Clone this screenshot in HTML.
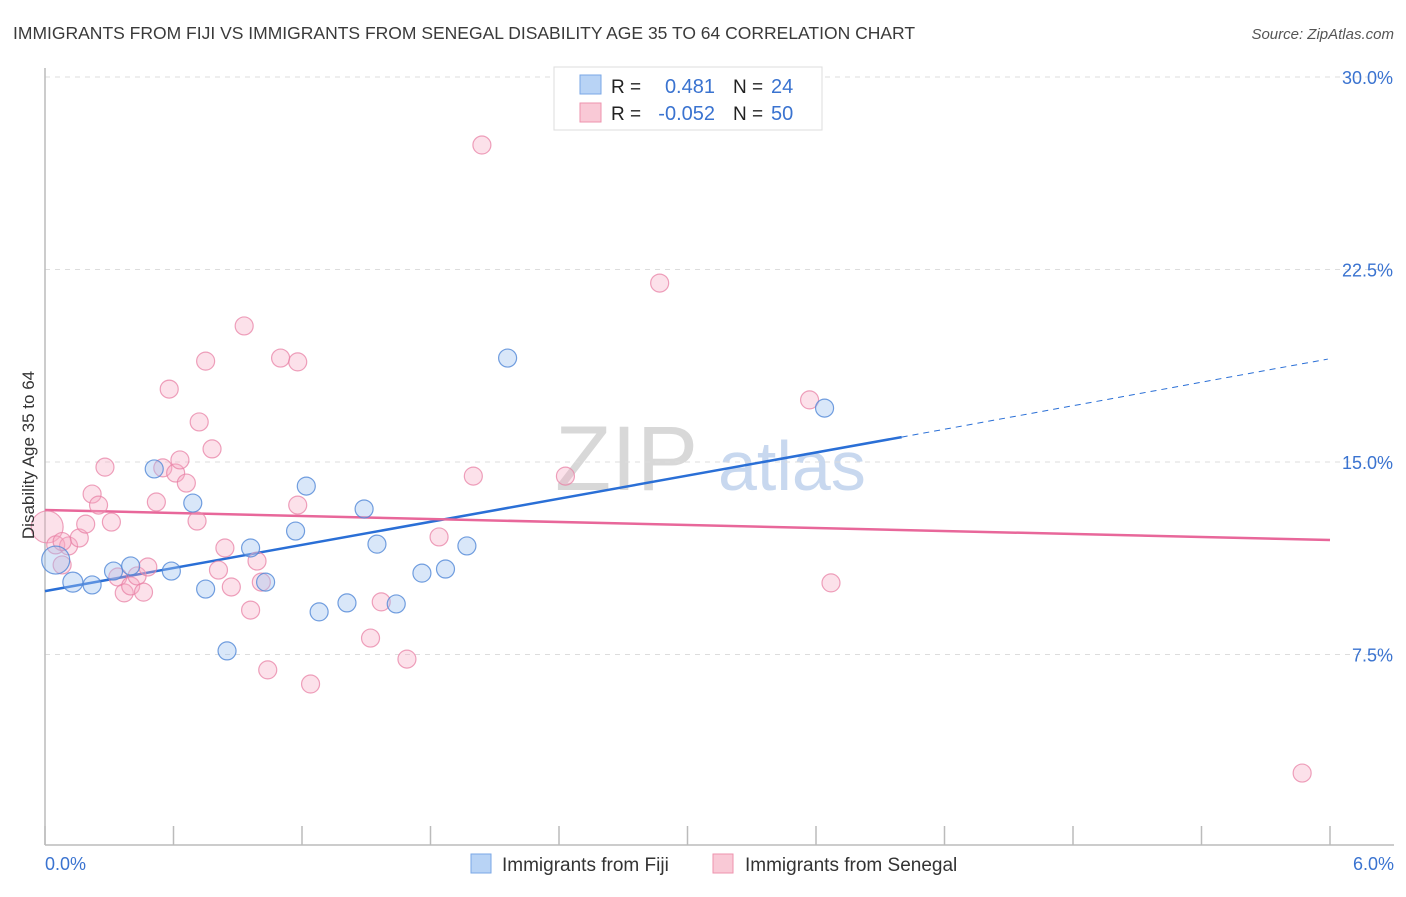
<!DOCTYPE html>
<html><head><meta charset="utf-8">
<style>
body{margin:0;background:#fff;font-family:"Liberation Sans",sans-serif;}
svg text{font-family:"Liberation Sans",sans-serif;}
</style></head>
<body>
<svg id="chart" width="1406" height="892" viewBox="0 0 1406 892">
<text x="13" y="39" font-size="17.5" fill="#3a3a3a">IMMIGRANTS FROM FIJI VS IMMIGRANTS FROM SENEGAL DISABILITY AGE 35 TO 64 CORRELATION CHART</text>
<text x="1394" y="39" font-size="15" fill="#555" font-style="italic" text-anchor="end">Source: ZipAtlas.com</text>
<g>
<text x="555" y="490" font-size="92" fill="#d8d8d8" font-family="Liberation Serif">ZIP</text>
<text x="718" y="490" font-size="70" fill="#c8d8ef">atlas</text>
</g>
<g id="grid"></g>
<g id="axes"></g>
<g id="lines"></g>
<g id="pts"></g>
<text x="-455" y="34" transform="rotate(-90)" font-size="17" fill="#333" text-anchor="middle">Disability Age 35 to 64</text>
<g>
<rect x="554" y="67" width="268" height="63" fill="#fff" stroke="#ddd"/>
<rect x="580" y="75" width="21" height="19" fill="#b8d3f5" stroke="#7aa7e6"/>
<rect x="580" y="103" width="21" height="19" fill="#f9c9d6" stroke="#ee93ae"/>
<text x="611" y="93" font-size="19" fill="#222">R =</text>
<text x="715" y="93" font-size="20" fill="#3a73d0" text-anchor="end">0.481</text>
<text x="733" y="93" font-size="19" fill="#222">N =</text>
<text x="771" y="93" font-size="20" fill="#3a73d0">24</text>
<text x="611" y="120" font-size="19" fill="#222">R =</text>
<text x="715" y="120" font-size="20" fill="#3a73d0" text-anchor="end">-0.052</text>
<text x="733" y="120" font-size="19" fill="#222">N =</text>
<text x="771" y="120" font-size="20" fill="#3a73d0">50</text>
</g>
<g>
<rect x="471" y="854" width="20" height="19" fill="#b8d3f5" stroke="#7aa7e6"/>
<text x="502" y="871" font-size="19" fill="#333">Immigrants from Fiji</text>
<rect x="713" y="854" width="20" height="19" fill="#f9c9d6" stroke="#ee93ae"/>
<text x="745" y="871" font-size="19" fill="#333">Immigrants from Senegal</text>
</g>
</svg>
<script>
const fijiX=[0.05,0.13,0.22,0.32,0.40,0.51,0.59,0.69,0.75,0.85,0.96,1.03,1.17,1.22,1.28,1.41,1.49,1.55,1.64,1.76,1.87,1.97,2.16,3.64];
const fijiY=[11.18,10.32,10.21,10.75,10.95,14.73,10.75,13.40,10.05,7.64,11.65,10.32,12.31,14.06,9.16,9.51,13.17,11.80,9.47,10.67,10.83,11.73,19.05,17.10];
const fijiR=[14,10,9,9,9,9,9,9,9,9,9,9,9,9,9,9,9,9,9,9,9,9,9,9];
const senX=[0.01,0.05,0.08,0.11,0.16,0.19,0.22,0.25,0.28,0.31,0.34,0.37,0.40,0.43,0.46,0.48,0.52,0.55,0.58,0.61,0.63,0.66,0.71,0.72,0.75,0.78,0.81,0.84,0.87,0.93,0.96,0.99,1.01,1.04,1.10,1.18,1.18,1.24,1.52,1.57,1.69,1.84,2.00,2.04,2.43,2.87,3.57,3.67,5.87,0.08];
const senY=[12.47,11.77,10.99,11.73,12.04,12.58,13.75,13.32,14.80,12.66,10.52,9.90,10.17,10.56,9.93,10.91,13.44,14.77,17.84,14.57,15.08,14.18,12.70,16.56,18.93,15.51,10.79,11.65,10.13,20.30,9.23,11.14,10.32,6.90,19.05,18.90,13.32,6.35,8.14,9.55,7.32,12.08,14.45,27.35,14.45,21.97,17.42,10.29,2.88,11.90];
const senR=[16,9,9,9,9,9,9,9,9,9,9,9,9,9,9,9,9,9,9,9,9,9,9,9,9,9,9,9,9,9,9,9,9,9,9,9,9,9,9,9,9,9,9,9,9,9,9,9,9,9];
const yTicks=[7.5,15.0,22.5,30.0];
const yTickLabels=["7.5%","15.0%","22.5%","30.0%"];
const fijiTrend=[[0,9.97],[4.0,15.97],[5.99,19.01]];
const senTrend=[[0,13.13],[6.0,11.96]];

const X0=45,X1=1330,Y0=847;
const sx=v=>X0+v/6*(X1-X0);
const sy=v=>Y0-v*25.667;
const NS="http://www.w3.org/2000/svg";
function mk(tag,attrs,parent){const e=document.createElementNS(NS,tag);for(const k in attrs)e.setAttribute(k,attrs[k]);parent.appendChild(e);return e;}
const grid=document.getElementById('grid'),axes=document.getElementById('axes'),lines=document.getElementById('lines'),pts=document.getElementById('pts');
yTicks.forEach((t,i)=>{
 const l=mk('line',{x1:X0,x2:1394,y1:sy(t),y2:sy(t),stroke:'#ddd','stroke-dasharray':'5,5'},grid);
 
 
 const tx=mk('text',{x:1393,y:sy(t)+7,'font-size':18,fill:'#3a73d0','text-anchor':'end'},axes);
 tx.textContent=yTickLabels[i];
 
 
});
const ya=mk('line',{x1:X0,x2:X0,y1:68,y2:845,stroke:'#bbb','stroke-width':1.5},axes);


const xa=mk('line',{x1:X0,x2:1394,y1:845,y2:845,stroke:'#bbb','stroke-width':1.5},axes);


for(let i=0;i<=10;i++){
 const x=sx(i*0.6);
 const tk=mk('line',{x1:x,x2:x,y1:826,y2:845,stroke:'#bbb','stroke-width':1.5},axes);
 
 
}
const xl0=mk('text',{x:45,y:870,'font-size':18,fill:'#3a73d0'},axes);xl0.textContent='0.0%';


const xl1=mk('text',{x:1394,y:870,'font-size':18,fill:'#3a73d0','text-anchor':'end'},axes);xl1.textContent='6.0%';



senX.forEach((x,i)=>{
 const c=mk('circle',{cx:sx(x),cy:sy(senY[i]),r:senR[i],fill:'rgba(246,170,195,0.35)',stroke:'rgba(232,130,165,0.75)','stroke-width':1.2},pts);
 
 
});
fijiX.forEach((x,i)=>{
 const c=mk('circle',{cx:sx(x),cy:sy(fijiY[i]),r:fijiR[i],fill:'rgba(160,196,240,0.4)',stroke:'rgba(80,135,215,0.8)','stroke-width':1.2},pts);
 
 
});
const b1=mk('line',{x1:sx(fijiTrend[0][0]),y1:sy(fijiTrend[0][1]),x2:sx(fijiTrend[1][0]),y2:sy(fijiTrend[1][1]),stroke:'#2a6fd6','stroke-width':2.5},lines);


const b2=mk('line',{x1:sx(fijiTrend[1][0]),y1:sy(fijiTrend[1][1]),x2:sx(fijiTrend[2][0]),y2:sy(fijiTrend[2][1]),stroke:'#2a6fd6','stroke-width':1,'stroke-dasharray':'6,5'},lines);


const p1=mk('line',{x1:sx(senTrend[0][0]),y1:sy(senTrend[0][1]),x2:sx(senTrend[1][0]),y2:sy(senTrend[1][1]),stroke:'#e8679a','stroke-width':2.5},lines);


</script>
</body></html>
